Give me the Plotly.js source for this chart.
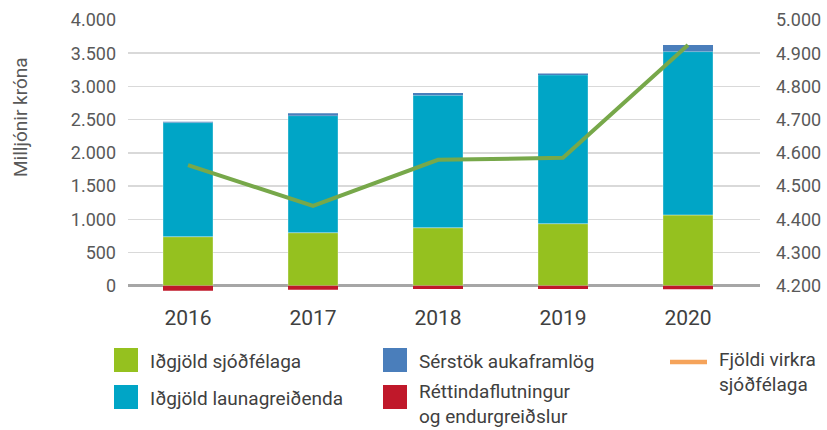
<!DOCTYPE html>
<html>
<head>
<meta charset="utf-8">
<script src="https://cdn.plot.ly/plotly-3.0.1.min.js"></script>
<style>html,body{margin:0;padding:0;background:#fff;}#chart{width:827px;height:430px;}</style>
</head>
<body>
<div id="chart"></div>
<script>
const years = ['2016', '2017', '2018', '2019', '2020'];
const idgjoldSjodfelaga = [738, 798, 873, 934, 1065];
const idgjoldLaunagreidenda = [1717, 1762, 1993, 2239, 2459];
const serstokAukaframlog = [15, 35, 35, 20, 100];
const rettindaflutningur = [-75, -60, -50, -50, -55];
const fjoldiVirkra = [4563, 4440, 4579, 4585, 4925];

const legendNames = ['Iðgjöld sjóðfélaga', 'Iðgjöld launagreiðenda', 'Sérstök aukaframlög',
  'Réttindaflutningur<br>og endurgreiðslur', 'Fjöldi virkra<br>sjóðfélaga'];

const colors = {green: '#95C11F', cyan: '#00A5C6', blue: '#4A7EBB', red: '#C0182A', line: '#77A84A', legendLine: '#F5A35A'};

// plot area in pixels
const L = 128, R = 760, T = 20, B = 291, W = 827, H = 430;
const px = x => (x - L) / (R - L);
const py = y => (B - y) / (B - T);

const font = 'Roboto, "Open Sans", sans-serif';
const barLine = {color: 'rgba(255,255,255,0.35)', width: 1};

const traces = [
  {type: 'bar', x: years, y: idgjoldSjodfelaga, name: legendNames[0], marker: {color: colors.green, line: barLine}},
  {type: 'bar', x: years, y: idgjoldLaunagreidenda, name: legendNames[1], marker: {color: colors.cyan, line: barLine}},
  {type: 'bar', x: years, y: serstokAukaframlog, name: legendNames[2], marker: {color: colors.blue}},
  {type: 'bar', x: years, y: rettindaflutningur, name: legendNames[3], marker: {color: colors.red}},
  {type: 'scatter', mode: 'lines', x: years, y: fjoldiVirkra, yaxis: 'y2', name: legendNames[4], line: {color: colors.line, width: 4}}
];

const shapes = [];
const annotations = [];
function legendBox(x0, y0, color) {
  shapes.push({type: 'rect', xref: 'paper', yref: 'paper', x0: px(x0), x1: px(x0 + 24), y0: py(y0 + 24), y1: py(y0), fillcolor: color, line: {width: 0}});
}
function legendText(x, y, text) {
  annotations.push({xref: 'paper', yref: 'paper', x: px(x), y: py(y), xanchor: 'left', yanchor: 'middle', text: text, showarrow: false, align: 'left', font: {family: font, size: 19, color: '#404040'}});
}
legendBox(114, 348, colors.green); legendText(148, 361, legendNames[0]);
legendBox(114, 385, colors.cyan); legendText(148, 398, legendNames[1]);
legendBox(383, 348, colors.blue); legendText(417, 361, legendNames[2]);
legendBox(383, 385, colors.red); legendText(417, 404, legendNames[3]);
shapes.push({type: 'line', xref: 'paper', yref: 'paper', x0: px(670), x1: px(707), y0: py(362), y1: py(362), line: {color: colors.legendLine, width: 4.5}});
legendText(717, 372, legendNames[4]);

annotations.push({xref: 'paper', yref: 'paper', x: px(20), y: py(117), xanchor: 'center', yanchor: 'middle', textangle: -90, text: 'Milljónir króna', showarrow: false, font: {family: font, size: 19, color: '#595959'}});

const layout = {
  width: W, height: H,
  margin: {l: L, r: W - R, t: T, b: H - B, pad: 0},
  paper_bgcolor: '#fff', plot_bgcolor: '#fff',
  separators: ',.',
  barmode: 'relative',
  bargap: 0.6,
  showlegend: false,
  font: {family: font, color: '#595959'},
  xaxis: {type: 'category', range: [-0.48, 4.576], showgrid: false, showline: false, zeroline: false, ticks: '',
    ticklabelstandoff: 12, tickfont: {family: font, size: 21, color: '#404040'}},
  yaxis: {range: [-80, 4000], tick0: 0, dtick: 500, tickformat: ',d', showgrid: true, gridcolor: '#D9D9D9', gridwidth: 1.5,
    zeroline: true, zerolinecolor: '#A6A6A6', zerolinewidth: 2.5, showline: false, ticks: '', ticklabelstandoff: 11,
    tickfont: {family: font, size: 18, color: '#595959'}},
  yaxis2: {overlaying: 'y', side: 'right', range: [4184, 5000], tick0: 4200, dtick: 100, tickformat: ',d', showgrid: false,
    zeroline: false, showline: false, ticks: '', ticklabelstandoff: 15, tickfont: {family: font, size: 18, color: '#595959'}},
  shapes: shapes,
  annotations: annotations
};

Plotly.newPlot('chart', traces, layout, {displayModeBar: false, staticPlot: true});
</script>
</body>
</html>
